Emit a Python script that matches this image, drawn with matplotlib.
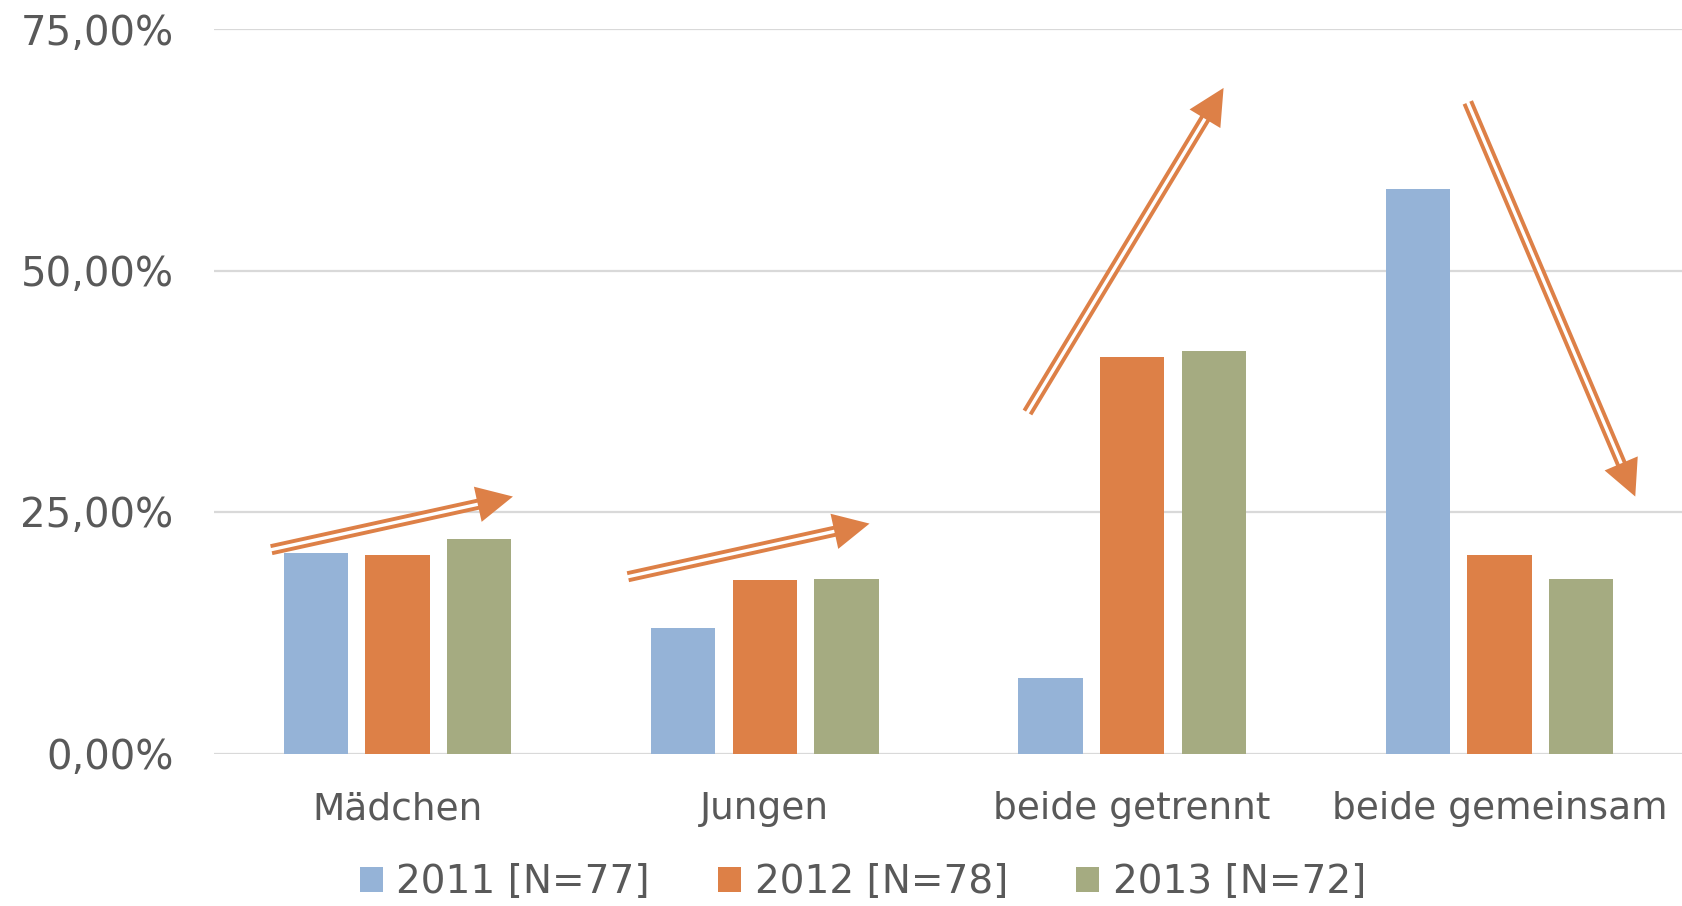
import matplotlib
matplotlib.use("Agg")
import matplotlib.pyplot as plt
from matplotlib.patches import Polygon, Patch
from matplotlib.lines import Line2D
from matplotlib.transforms import IdentityTransform
import numpy as np

categories = ["Mädchen", "Jungen", "beide getrennt", "beide gemeinsam"]
series_names = ["2011 [N=77]", "2012 [N=78]", "2013 [N=72]"]
v2011 = [20.78, 12.99, 7.79, 58.44]
v2012 = [20.51, 17.95, 41.03, 20.51]
v2013 = [22.22, 18.06, 41.67, 18.06]
yticks = [0, 25, 50, 75]
ytick_labels = ["0,00%", "25,00%", "50,00%", "75,00%"]

# trend arrows (tail x, tail y) -> (head x, head y) in data units
arrow_tails = [(-0.344, 21.1), (0.627, 18.3), (1.715, 35.3), (2.914, 67.4)]
arrow_heads = [(0.314, 26.6), (1.285, 23.8), (2.249, 68.9), (3.37, 26.6)]

colors = ["#95B3D7", "#DD8047", "#A5AB81"]
orange = "#DD8047"
text_color = "#595959"
grid_color = "#D9D9D9"

plt.rcParams['font.family'] = ['DejaVu Sans']

W, H, DPI = 1683, 906, 100
fig = plt.figure(figsize=(W / DPI, H / DPI), dpi=DPI)
ax = fig.add_axes([214 / W, (906 - 753.5) / H, (1683 - 214) / W, (753.5 - 29) / H])

x = np.arange(len(categories))
bw = 0.175
step = 0.222
for i, (vals, c, name) in enumerate(zip([v2011, v2012, v2013], colors, series_names)):
    ax.bar(x + (i - 1) * step, vals, width=bw, color=c, label=name, zorder=3)

ax.set_xlim(-0.5, 3.5)
ax.set_ylim(0, 75)
ax.set_yticks(yticks)
ax.set_yticklabels(ytick_labels)
ax.set_xticks(x)
ax.set_xticklabels(categories)
ax.tick_params(axis='y', length=0, pad=29, labelsize=29, labelcolor=text_color)
ax.tick_params(axis='x', length=0, pad=27, labelsize=27, labelcolor=text_color)
for s in ax.spines.values():
    s.set_visible(False)
ax.grid(axis='y', color=grid_color, linewidth=1.6, zorder=0)
ax.set_axisbelow(True)

# draw double-line arrows in pixel space
fig.canvas.draw()
tr = ax.transData
for (tx, ty), (hx, hy) in zip(arrow_tails, arrow_heads):
    p0 = np.array(tr.transform((tx, ty)))
    p1 = np.array(tr.transform((hx, hy)))
    d = p1 - p0
    L = np.hypot(*d)
    u = d / L
    n = np.array([-u[1], u[0]])
    head_len = 36
    head_w = 18
    base = p1 - u * head_len
    line_end = p1 - u * (head_len * 0.6)
    ax.add_line(Line2D([p0[0], line_end[0]], [p0[1], line_end[1]], transform=IdentityTransform(),
                       color=orange, linewidth=8.0, solid_capstyle='butt', zorder=5))
    white_end = p1 - u * (head_len * 0.75)
    ax.add_line(Line2D([p0[0] - u[0] * 2, white_end[0]], [p0[1] - u[1] * 2, white_end[1]],
                       transform=IdentityTransform(), color='white', linewidth=2.4,
                       solid_capstyle='butt', zorder=6))
    tri = Polygon([p1, base + n * head_w, base - n * head_w], closed=True,
                  transform=IdentityTransform(), facecolor=orange, edgecolor='none', zorder=7)
    ax.add_patch(tri)

handles = [Patch(facecolor=c) for c in colors]
fig.legend(handles, series_names, loc='center', bbox_to_anchor=(863 / W, 24 / H), ncol=3,
           frameon=False, fontsize=28, labelcolor=text_color, handlelength=0.6,
           handleheight=0.6, handletextpad=0.34, columnspacing=1.75, borderaxespad=0)

fig.savefig("out.png", dpi=DPI)
